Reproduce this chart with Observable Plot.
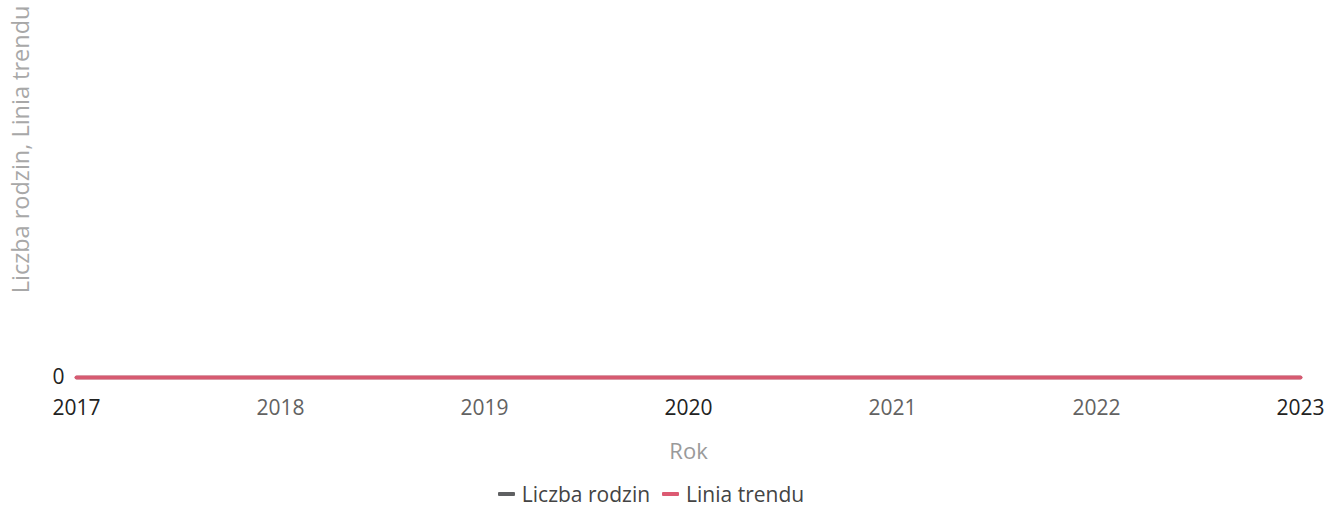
<!DOCTYPE html>
<html>
<head>
<meta charset="utf-8">
<script src="https://cdn.jsdelivr.net/npm/d3@7"></script>
<script src="https://cdn.jsdelivr.net/npm/@observablehq/plot@0.6"></script>
<style>
  body { margin: 0; background: #fff; font-family: "Open Sans", sans-serif; }
  #legend { width: 1302px; display: flex; justify-content: center; align-items: center; gap: 12px; font-size: 21px; color: #444; height: 30px; margin-top: 9px; }
  .item { display: flex; align-items: center; gap: 7px; }
  .sw { width: 17px; height: 4px; border-radius: 1px; display: inline-block; }
</style>
</head>
<body>
<div id="chart"></div>
<div id="legend"></div>
<script>
const years = [2017, 2018, 2019, 2020, 2021, 2022, 2023];
const liczbaRodzin = [0, 0, 0, 0, 0, 0, 0];
const liniaTrendu = [0, 0, 0, 0, 0, 0, 0];
const seriesNames = ["Liczba rodzin", "Linia trendu"];
const seriesColors = ["#5f6062", "#dc5a72"];
const yTicks = [0];

const rows = [];
years.forEach((y, i) => {
  rows.push({year: y, value: liczbaRodzin[i], series: seriesNames[0]});
  rows.push({year: y, value: liniaTrendu[i], series: seriesNames[1]});
});
const emphYears = [years[0], years[3], years[years.length - 1]];
const otherYears = years.filter(y => !emphYears.includes(y));

const chart = Plot.plot({
  width: 1327,
  height: 470,
  marginLeft: 76,
  marginRight: 27,
  marginTop: 10,
  marginBottom: 93,
  style: {fontFamily: "Open Sans, sans-serif", background: "#fff"},
  x: {domain: [years[0], years[years.length - 1]]},
  y: {domain: [0, 1]},
  color: {domain: seriesNames, range: seriesColors},
  marks: [
    Plot.axisX({ticks: otherYears, tickSize: 0, tickPadding: 23, fontSize: 21, tickFormat: d => String(d), label: null, fill: "#626262", fontWeight: 500}),
    Plot.axisX({ticks: emphYears, tickSize: 0, tickPadding: 23, fontSize: 21, tickFormat: d => String(d), label: null, fill: "#222", fontWeight: 500}),
    Plot.axisY({ticks: yTicks, tickSize: 0, tickPadding: 12, fontSize: 21, fill: "#222", fontWeight: 500, tickFormat: d => String(d), label: null}),
    Plot.line(rows.filter(r => r.series === seriesNames[0]), {x: "year", y: "value", stroke: "series", strokeWidth: 3.5}),
    Plot.line(rows.filter(r => r.series === seriesNames[1]), {x: "year", y: "value", stroke: "series", strokeWidth: 4, strokeOpacity: 0.95}),
    Plot.text(["Rok"], {frameAnchor: "bottom", dy: 81, fontSize: 22, fill: "#9a9a9a", text: d => d}),
    Plot.text(["Liczba rodzin, Linia trendu"], {frameAnchor: "top-left", dx: -55, dy: -5, rotate: -90, textAnchor: "end", lineAnchor: "middle", fontSize: 23.5, fill: "#a8a8a8", text: d => d})
  ]
});
document.getElementById("chart").appendChild(chart);

const legend = document.getElementById("legend");
seriesNames.forEach((n, i) => {
  const it = document.createElement("div");
  it.className = "item";
  it.innerHTML = `<span class="sw" style="background:${seriesColors[i]}"></span><span>${n}</span>`;
  legend.appendChild(it);
});
</script>
</body>
</html>
